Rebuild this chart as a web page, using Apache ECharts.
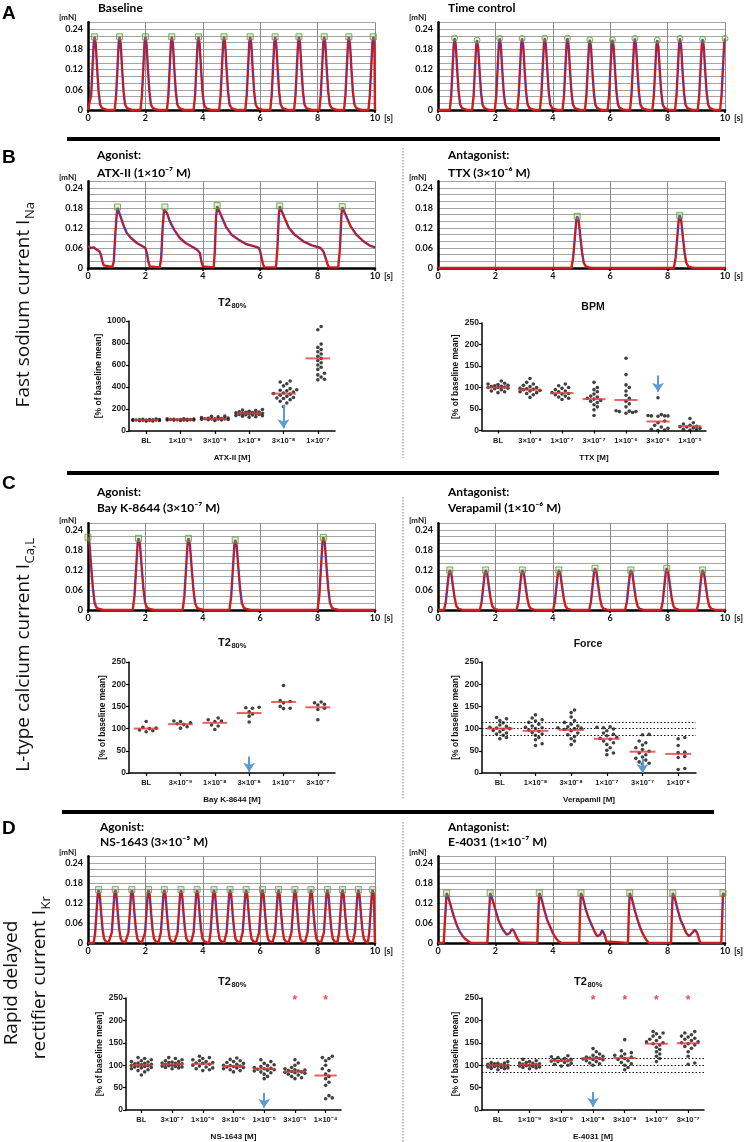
<!DOCTYPE html>
<html><head><meta charset="utf-8">
<script src="https://cdn.jsdelivr.net/npm/echarts@6/dist/echarts.min.js"></script>
<style>html,body{margin:0;padding:0;background:#fff}#c{width:747px;height:1142px}</style>
</head><body><div id="c"></div><script>
// ================= DATA =================
// Pulse shapes: [time offset from peak (s), fraction of peak]
const pulseNarrow = [[-0.17,0],[-0.12,0.2],[-0.07,0.6],[-0.03,0.92],[0,1],[0.04,0.9],[0.09,0.55],[0.14,0.25],[0.19,0.08],[0.25,0.03],[0.35,0.01],[0.45,0]];
const pulseWide = [[-0.2,0],[-0.14,0.2],[-0.08,0.6],[-0.03,0.93],[0,1],[0.05,0.92],[0.11,0.6],[0.17,0.3],[0.23,0.1],[0.3,0.03],[0.42,0.01],[0.55,0]];

// Beat times (s) and peak forces (mN)
const baselineBeats = [0.23,1.10,2.00,2.92,3.85,4.74,5.65,6.52,7.35,8.23,9.09,9.94];
const baselinePeaks = [0.217,0.217,0.217,0.217,0.217,0.217,0.217,0.217,0.217,0.217,0.217,0.217];
const timeControlBeats = [0.58,1.36,2.15,2.93,3.72,4.51,5.29,6.08,6.86,7.64,8.43,9.22,10.0];
const timeControlPeaks = [0.213,0.207,0.212,0.212,0.213,0.213,0.208,0.208,0.212,0.207,0.212,0.21,0.212];
const atxBeats = [1.03,2.68,4.50,6.68,8.86];
const atxPeaks = [0.183,0.183,0.187,0.186,0.184];
const atxTrace = [[0,0.065],[0.1,0.06],[0.2,0.062],[0.3,0.055],[0.4,0.05],[0.45,0.04],[0.5,0.02],[0.55,0.008],[0.6,0.003],[0.85,0.003],[0.9,0.02],[0.95,0.1],[1.0,0.16],[1.03,0.18],[1.08,0.175],[1.15,0.15],[1.25,0.125],[1.35,0.105],[1.5,0.09],[1.7,0.075],[1.9,0.065],[2.0,0.06],[2.05,0.045],[2.1,0.02],[2.15,0.005],[2.2,0.002],[2.5,0.002],[2.55,0.03],[2.6,0.12],[2.65,0.175],[2.68,0.18],[2.75,0.165],[2.85,0.14],[3.0,0.115],[3.2,0.09],[3.4,0.075],[3.6,0.065],[3.8,0.055],[3.9,0.045],[3.95,0.02],[4.0,0.005],[4.05,0.002],[4.38,0.002],[4.42,0.05],[4.46,0.15],[4.5,0.185],[4.55,0.18],[4.65,0.155],[4.8,0.125],[5.0,0.1],[5.25,0.085],[5.5,0.072],[5.8,0.065],[5.95,0.06],[6.0,0.05],[6.05,0.03],[6.1,0.01],[6.15,0.002],[6.55,0.002],[6.6,0.06],[6.65,0.16],[6.68,0.185],[6.73,0.18],[6.85,0.15],[7.0,0.12],[7.2,0.1],[7.5,0.08],[7.8,0.068],[8.0,0.063],[8.1,0.06],[8.2,0.05],[8.28,0.03],[8.35,0.01],[8.4,0.002],[8.72,0.002],[8.78,0.06],[8.83,0.16],[8.86,0.182],[8.9,0.18],[9.0,0.155],[9.15,0.125],[9.35,0.1],[9.6,0.08],[9.8,0.068],[10,0.062]];
const ttxBeats = [4.85,8.42];
const ttxPeaks = [0.155,0.158];
const bayBeats = [0.0,1.76,3.50,5.13,8.20];
const bayPeaks = [0.218,0.215,0.215,0.21,0.218];
const verBeats = [0.41,1.66,2.94,4.21,5.47,6.72,7.97,9.22];
const verPeaks = [0.12,0.12,0.12,0.12,0.125,0.12,0.125,0.12];
const nsBeats = [0.37,0.95,1.53,2.11,2.66,3.24,3.80,4.39,4.95,5.51,6.08,6.64,7.21,7.77,8.34,8.87,9.42,9.92];
const nsPeaks = [0.16,0.16,0.16,0.16,0.16,0.16,0.16,0.16,0.16,0.16,0.16,0.16,0.16,0.16,0.16,0.16,0.16,0.16];
const e4031Beats = [0.30,1.82,3.53,4.98,6.68,8.18,9.93];
const e4031Peaks = [0.15,0.15,0.15,0.15,0.15,0.15,0.15];
const e4031Trace = [[0,0],[0.2,0],[0.25,0.08],[0.3,0.15],[0.35,0.14],[0.45,0.11],[0.55,0.08],[0.65,0.055],[0.75,0.035],[0.85,0.022],[0.95,0.012],[1.05,0.006],[1.15,0],[1.72,0],[1.77,0.08],[1.82,0.15],[1.9,0.13],[2.0,0.1],[2.1,0.07],[2.2,0.05],[2.3,0.035],[2.4,0.025],[2.5,0.03],[2.58,0.042],[2.65,0.035],[2.75,0.015],[2.85,0.002],[2.9,0],[3.46,0],[3.5,0.1],[3.53,0.15],[3.6,0.135],[3.7,0.1],[3.8,0.07],[3.9,0.05],[4.0,0.03],[4.1,0.015],[4.2,0.005],[4.3,0],[4.92,0],[4.95,0.09],[4.98,0.15],[5.05,0.135],[5.15,0.1],[5.25,0.075],[5.35,0.055],[5.45,0.035],[5.55,0.02],[5.65,0.025],[5.72,0.038],[5.8,0.025],[5.87,0.005],[5.92,0],[6.62,0],[6.65,0.09],[6.68,0.15],[6.75,0.135],[6.85,0.1],[6.95,0.07],[7.05,0.045],[7.15,0.025],[7.25,0.01],[7.35,0],[8.12,0],[8.15,0.09],[8.18,0.15],[8.25,0.135],[8.35,0.1],[8.45,0.07],[8.55,0.05],[8.65,0.03],[8.75,0.02],[8.85,0.03],[8.95,0.04],[9.03,0.03],[9.1,0.01],[9.15,0],[9.87,0],[9.9,0.07],[9.93,0.15],[10,0.14]];

// Dot plots: categories, individual values (% of baseline mean), mean lines
const atxCats = ['BL','1×10⁻⁹','3×10⁻⁹','1×10⁻⁸','3×10⁻⁸','1×10⁻⁷'];
const atxT2 = [
 [92,95,97,98,100,101,103,105,108,90,96,99,102,104,94,100,106],
 [95,98,100,102,104,106,108,110,112,100,103,107,105,99,101],
 [95,100,103,106,108,110,112,115,118,122,128,133,135,105,113,109,111],
 [125,130,135,140,145,150,155,158,160,162,165,170,175,180,185,190,195,150,168,172,148,138],
 [220,255,270,285,295,305,315,325,335,345,355,365,370,375,385,410,430,445,455,300,340],
 [465,470,490,510,525,560,580,600,620,640,660,700,720,740,760,790,920,950,680]];
const atxMeans = [100,104,110,160,340,660];

const ttxCats = ['BL','3×10⁻⁸','1×10⁻⁷','3×10⁻⁷','1×10⁻⁶','3×10⁻⁶','1×10⁻⁵'];
const ttxBPM = [
 [88,90,92,95,97,98,100,100,101,102,103,104,105,107,108,110,115],
 [77,83,86,88,90,92,93,95,96,97,98,100,102,105,108,112,121],
 [72,75,78,80,83,85,86,88,90,92,95,98,100,104,108],
 [35,48,55,60,65,68,70,73,75,78,80,85,90,95,100,112],
 [40,42,44,44,45,46,55,62,68,75,82,92,100,106,130,168],
 [76,37,35,34,34,34,33,22,18,12,8,5,3,1,0],
 [28,18,15,12,10,9,8,6,5,3,2,1]];
const ttxMeans = [100,95,87,73,71,21,10];

const bayCats = ['BL','3×10⁻⁹','1×10⁻⁸','3×10⁻⁸','1×10⁻⁷','3×10⁻⁷'];
const bayT2 = [
 [116,103,101,100,97,95,93],
 [117,116,113,111,109,104,101],
 [124,120,117,116,108,106,98],
 [148,147,146,138,133,128,115],
 [197,163,161,158,150,146,145],
 [160,158,155,153,146,143,120]];
const bayMeans = [100,110,113,135,160,148];

const verCats = ['BL','1×10⁻⁸','3×10⁻⁸','1×10⁻⁷','3×10⁻⁷','1×10⁻⁶'];
const verForce = [
 [125,122,118,113,108,105,103,101,100,98,96,93,90,88,85,80,77],
 [131,124,120,117,114,110,106,103,102,100,97,94,91,88,85,80,75,66,62],
 [142,136,126,118,114,110,106,104,102,101,100,98,95,90,86,82,77,72,64],
 [104,103,102,99,95,90,87,84,80,78,76,72,68,64,57,51,45,41],
 [87,86,72,68,63,57,53,49,45,41,36,33,29,25,22,20],
 [80,77,62,47,46,37,35,10,8]];
const verMeans = [100,95,97,77,48,43];

const nsCats = ['BL','3×10⁻⁷','1×10⁻⁶','3×10⁻⁶','1×10⁻⁵','3×10⁻⁵','1×10⁻⁴'];
const nsT2 = [
 [78,85,88,90,92,94,95,96,97,98,99,100,101,102,103,104,105,107,108,110,112,115,117],
 [92,94,95,96,97,98,99,100,101,102,103,104,105,106,107,108,110,112,115,117],
 [88,90,92,94,96,98,100,102,104,105,106,108,110,112,115,117,120],
 [85,88,90,92,94,95,96,97,98,99,100,102,104,106,108,110,113,116],
 [70,75,80,83,85,87,89,90,91,92,93,95,97,99,101,104,108,112],
 [70,72,75,78,80,82,83,84,85,86,87,88,89,90,92,95,100,105,112],
 [25,27,32,55,62,70,75,80,88,92,100,110,115,117,120]];
const nsMeans = [100,102,103,98,92,86,77];

const eCats = ['BL','1×10⁻⁹','3×10⁻⁹','1×10⁻⁸','3×10⁻⁸','1×10⁻⁷','3×10⁻⁷'];
const eT2 = [
 [90,92,93,94,95,96,97,98,99,100,100,101,102,103,104,105,106,108],
 [92,94,95,96,97,98,99,100,101,102,103,104,105,106,108,110,113],
 [98,100,102,104,106,108,109,110,111,112,113,115,117,119,121],
 [100,103,105,108,110,112,113,114,115,116,117,118,120,122,125,130,137],
 [90,95,100,103,106,110,113,115,118,120,122,125,128,132,157],
 [108,115,120,125,130,135,140,145,148,150,152,155,158,162,165,170,172,175],
 [102,105,120,130,138,142,145,148,150,152,155,158,160,163,165,168,172,175]];
const eMeans = [100,101,110,115,116,148,149];

// Arrows [category index, from, to], significance stars [category index, level]
const atxArrow = [4,240,25], ttxArrow = [5,128,90], bayArrow = [3,37,3], verArrow = [4,32,0], nsArrow = [4,38,5], eArrow = [3,40,7];
const nsStars = [[5,245],[6,245]];
const eStars = [[3,243],[4,243],[5,243],[6,243]];
const refLines = [115,100,85];

// ================= BUILD =================
const FT = 'Lato, "Open Sans", sans-serif';
const FA = '"Liberation Sans", Arial, sans-serif';
const RED = '#d01c1c', BLUE = '#2b3bd6', GREEN = '#5b9e3a';

function buildTrace(beats, peaks, shape) {
  const pts = [];
  beats.forEach((b, i) => {
    const limit = i < beats.length - 1 ? beats[i+1] + shape[0][0] : 10.0001;
    shape.forEach(([dt, f]) => {
      const t = +(b + dt).toFixed(3);
      if (t >= 0 && t <= 10 && t < limit) pts.push([t, peaks[i] * f]);
    });
  });
  pts.sort((a, b) => a[0] - b[0]);
  if (pts[0][0] > 0) pts.unshift([0, 0]);
  if (pts[pts.length-1][0] < 10) pts.push([10, 0]);
  return pts;
}

const traceDefs = [
  {pts: buildTrace(baselineBeats, baselinePeaks, pulseNarrow), beats: baselineBeats, peaks: baselinePeaks, mk: 'rect'},
  {pts: buildTrace(timeControlBeats, timeControlPeaks, pulseNarrow), beats: timeControlBeats, peaks: timeControlPeaks, mk: 'circle'},
  {pts: atxTrace, beats: atxBeats, peaks: atxPeaks, mk: 'rect'},
  {pts: buildTrace(ttxBeats, ttxPeaks, pulseWide), beats: ttxBeats, peaks: ttxPeaks, mk: 'rect'},
  {pts: buildTrace(bayBeats, bayPeaks, pulseWide), beats: bayBeats, peaks: bayPeaks, mk: 'rect'},
  {pts: buildTrace(verBeats, verPeaks, pulseWide), beats: verBeats, peaks: verPeaks, mk: 'rect'},
  {pts: buildTrace(nsBeats, nsPeaks, pulseNarrow), beats: nsBeats, peaks: nsPeaks, mk: 'rect'},
  {pts: e4031Trace, beats: e4031Beats, peaks: e4031Peaks, mk: 'rect'}
];
const traceGrids = [
  {left:88, top:22.3, width:287, height:87.7},
  {left:438, top:22.3, width:287, height:87.7},
  {left:88, top:181.3, width:287, height:86.7},
  {left:438, top:181.3, width:287, height:86.7},
  {left:88, top:523.3, width:287, height:86.7},
  {left:438, top:523.3, width:287, height:86.7},
  {left:88, top:856.3, width:287, height:86.7},
  {left:438, top:856.3, width:287, height:86.7}
];
const dotDefs = [
  {cats: atxCats, vals: atxT2, means: atxMeans, ymax: 1000, yint: 200, xname: 'ATX-II [M]', arrow: atxArrow},
  {cats: ttxCats, vals: ttxBPM, means: ttxMeans, ymax: 250, yint: 50, xname: 'TTX [M]', arrow: ttxArrow},
  {cats: bayCats, vals: bayT2, means: bayMeans, ymax: 250, yint: 50, xname: 'Bay K-8644 [M]', arrow: bayArrow},
  {cats: verCats, vals: verForce, means: verMeans, ymax: 250, yint: 50, xname: 'Verapamil [M]', arrow: verArrow, ref: true},
  {cats: nsCats, vals: nsT2, means: nsMeans, ymax: 250, yint: 50, xname: 'NS-1643 [M]', arrow: nsArrow, stars: nsStars},
  {cats: eCats, vals: eT2, means: eMeans, ymax: 250, yint: 50, xname: 'E-4031 [M]', arrow: eArrow, stars: eStars, ref: true}
];
const dotGrids = [
  {left:129, top:321, width:206, height:110},
  {left:482, top:323, width:224, height:107.5},
  {left:129, top:662, width:206, height:111},
  {left:482, top:662, width:214, height:111},
  {left:126, top:998, width:215, height:112},
  {left:482, top:998, width:222, height:112}
];

// beeswarm-like horizontal spread, capped to the column
function swarm(vals, pxPerUnit, colPx, dot) {
  const sorted = vals.slice().sort((a, b) => a - b);
  const placed = [], out = [];
  const cap = colPx * 0.4, step = dot * 0.85;
  const cands = [0];
  for (let i = 1; i * step <= cap; i++) cands.push(i * step, -i * step);
  sorted.forEach(v => {
    const y = v * pxPerUnit;
    let best = 0, bestD = -1;
    for (const cx of cands) {
      const dmin = placed.reduce((m, p) => Math.min(m, Math.hypot(p[0] - cx, p[1] - y)), 1e9);
      if (dmin >= dot) { best = cx; bestD = 1e9; break; }
      if (dmin > bestD) { bestD = dmin; best = cx; }
    }
    placed.push([best, y]);
    out.push([best / colPx, v]);
  });
  return out;
}

const grid = [], xAxis = [], yAxis = [], series = [];
traceDefs.forEach((d, i) => {
  grid.push(Object.assign({containLabel: false}, traceGrids[i]));
  xAxis.push({gridIndex: i, type: 'value', min: 0, max: 10, interval: 2,
    axisLine: {show: true, onZero: false, lineStyle: {color: '#000', width: 2.5}},
    axisTick: {show: true, length: 3, lineStyle: {color: '#000', width: 1.5}},
    axisLabel: {fontFamily: FT, fontWeight: 'bold', fontSize: 9, color: '#111', margin: 4},
    splitLine: {show: true, lineStyle: {color: '#8a8a8a', width: 1}}});
  yAxis.push({gridIndex: i, type: 'value', min: 0, max: 0.26, interval: 0.02,
    axisLine: {show: true, onZero: false, lineStyle: {color: '#000', width: 2.5}},
    axisTick: {show: false},
    axisLabel: {fontFamily: FT, fontWeight: 'bold', fontSize: 9, color: '#111', margin: 5,
      formatter: v => { const k = v / 0.06; return Math.abs(k - Math.round(k)) < 1e-6 ? (v < 1e-9 ? '0' : v.toFixed(2)) : ''; }},
    splitLine: {show: true, lineStyle: {color: '#a5a5a5', width: 1}}});
  series.push({type: 'line', xAxisIndex: i, yAxisIndex: i, data: d.pts, showSymbol: false, silent: true,
    lineStyle: {color: RED, width: 2.4}, z: 3});
  series.push({type: 'line', xAxisIndex: i, yAxisIndex: i, data: d.pts.map(p => p[1] > 0.015 ? p : [p[0], null]), showSymbol: false, silent: true,
    connectNulls: false, lineStyle: {color: BLUE, width: 1.2, type: 'dotted'}, z: 4});
  series.push({type: 'scatter', xAxisIndex: i, yAxisIndex: i, silent: true, z: 5,
    data: d.beats.map((b, j) => [b, d.peaks[j]]).filter(p => p[0] <= 10),
    symbol: d.mk, symbolSize: 6, itemStyle: {color: 'rgba(140,200,110,0.35)', borderColor: GREEN, borderWidth: 1}});
});

dotDefs.forEach((d, k) => {
  const gi = 8 + k, g = dotGrids[k], n = d.cats.length;
  grid.push(Object.assign({containLabel: false}, g));
  xAxis.push({gridIndex: gi, type: 'category', data: d.cats, boundaryGap: true,
    axisLine: {show: true, onZero: false, lineStyle: {color: '#000', width: 1.5}},
    axisTick: {show: true, alignWithLabel: true, length: 3, lineStyle: {color: '#000', width: 1.2}},
    axisLabel: {interval: 0, fontSize: 7.5, fontWeight: 'bold', fontFamily: FA, color: '#222', margin: 6},
    name: d.xname, nameLocation: 'middle', nameGap: 23,
    nameTextStyle: {fontSize: 8, fontWeight: 'bold', fontFamily: FA, color: '#111'}, splitLine: {show: false}});
  const xv = xAxis.length;
  xAxis.push({gridIndex: gi, type: 'value', min: -0.5, max: n - 0.5, show: false, splitLine: {show: false}});
  const yi = yAxis.length;
  yAxis.push({gridIndex: gi, type: 'value', min: 0, max: d.ymax, interval: d.yint,
    axisLine: {show: true, onZero: false, lineStyle: {color: '#000', width: 1.5}},
    axisTick: {show: true, length: 3, lineStyle: {color: '#000', width: 1.2}},
    axisLabel: {fontSize: 8.5, fontWeight: 'bold', fontFamily: FA, color: '#222', margin: 3, formatter: v => String(v)},
    splitLine: {show: false},
    name: '[% of baseline mean]', nameLocation: 'middle', nameGap: d.ymax > 500 ? 25 : 22, nameRotate: 90,
    nameTextStyle: {fontSize: 8.5, fontWeight: 'bold', fontFamily: FA, color: '#111'}});
  const colPx = g.width / n, pxu = g.height / d.ymax;
  const pts = [];
  d.vals.forEach((col, ci) => swarm(col, pxu, colPx, 3.9).forEach(([o, v]) => pts.push([ci + o, v])));
  series.push({type: 'scatter', xAxisIndex: xv, yAxisIndex: yi, data: pts, symbolSize: 3.6, silent: true,
    itemStyle: {color: '#111'}, z: 3,
    markLine: d.ref ? {silent: true, symbol: 'none', label: {show: false},
      lineStyle: {color: '#111', type: [1.5, 2], width: 1.2}, data: refLines.map(v => ({yAxis: v}))} : undefined});
  series.push({type: 'scatter', xAxisIndex: xv, yAxisIndex: yi, data: d.means.map((m, ci) => [ci, m]), silent: true,
    symbol: 'rect', symbolSize: [colPx * 0.72, 2], itemStyle: {color: '#e23b3b'}, z: 6});
  series.push({type: 'lines', coordinateSystem: 'cartesian2d', xAxisIndex: xv, yAxisIndex: yi, silent: true, z: 7,
    data: [{coords: [[d.arrow[0], d.arrow[1]], [d.arrow[0], d.arrow[2]]]}],
    symbol: ['none', 'arrow'], symbolSize: 9, lineStyle: {color: '#5b9bd5', width: 2, opacity: 1}});
  if (d.stars) series.push({type: 'scatter', xAxisIndex: xv, yAxisIndex: yi, data: d.stars, silent: true,
    symbolSize: 8, itemStyle: {color: 'rgba(0,0,0,0)'},
    label: {show: true, position: 'inside', formatter: '*', color: '#e02020', fontSize: 12, fontFamily: FA, fontWeight: 'bold'}});
});

// ---------- text / decoration ----------
const cv = document.createElement('canvas').getContext('2d');
function tw(t, f) { cv.font = f; return cv.measureText(t).width; }
function T(x, y, text, font, extra) {
  return Object.assign({type: 'text', x: x, y: y, silent: true,
    style: Object.assign({text: text, font: font, fill: '#111', align: 'left', verticalAlign: 'middle'}, extra || {})});
}
function subPair(cx, cy, main, sub, fm, fs, dy) {
  const w1 = tw(main, fm), w2 = tw(sub, fs), x0 = cx - (w1 + w2) / 2;
  return [T(x0, cy, main, fm), T(x0 + w1 + 0.5, cy + dy, sub, fs)];
}
const g = [];
[['A',14],['B',158],['C',484],['D',829]].forEach(([l,y]) => g.push(T(2, y, l, 'bold 19px ' + FA, {fill: '#000'})));
[[67,720,139],[67,719,473],[62,714,812]].forEach(([a,b,y]) => g.push({type: 'line', silent: true, shape: {x1: a, y1: y, x2: b, y2: y}, style: {stroke: '#000', lineWidth: 4}}));
[[148,458],[497,800],[822,1142]].forEach(([a,b]) => g.push({type: 'line', silent: true, shape: {x1: 403, y1: a, x2: 403, y2: b}, style: {stroke: '#aaa', lineWidth: 1.5, lineDash: [1.5, 1.5]}}));
const TF = 'bold 12px ' + FT;
[[98,8,'Baseline'],[448,8,'Time control'],
 [97,155,'Agonist:'],[97,173,'ATX-II (1×10⁻⁷ M)'],[448,155,'Antagonist:'],[448,173,'TTX (3×10⁻⁶ M)'],
 [97,492,'Agonist:'],[97,508,'Bay K-8644 (3×10⁻⁷ M)'],[448,492,'Antagonist:'],[448,508,'Verapamil (1×10⁻⁶ M)'],
 [100,827,'Agonist:'],[100,842,'NS-1643 (3×10⁻⁵ M)'],[448,827,'Antagonist:'],[448,842,'E-4031 (1×10⁻⁷ M)']
].forEach(([x,y,t]) => g.push(T(x, y, t, TF, {fill: '#000'})));
traceGrids.forEach((tg, i) => {
  const yUnit = [17,17,177,177,520,520,852,852][i];
  g.push(T(tg.left - 29, yUnit, '[mN]', 'bold 8px ' + FT));
  g.push(T(tg.left + tg.width + 9, tg.top + tg.height + 8, '[s]', 'bold 9px ' + FT));
});
const FM = 'bold 11px ' + FA, FS = 'bold 7.5px ' + FA;
[[232,303],[232,643],[232,982],[588,982]].forEach(([x,y]) => g.push(...subPair(x, y, 'T2', '80%', FM, FS, 3)));
g.push(T(593, 307, 'BPM', 'bold 10.5px ' + FA, {align: 'center'}));
g.push(T(588, 644, 'Force', 'bold 10.5px ' + FA, {align: 'center'}));
const SF = '19px "Open Sans", sans-serif', SS = '13px "Open Sans", sans-serif';
g.push({type: 'group', x: 24, y: 305, rotation: Math.PI / 2, children: subPair(0, 0, 'Fast sodium current I', 'Na', SF, SS, 6)});
g.push({type: 'group', x: 24, y: 655, rotation: Math.PI / 2, children: subPair(0, 0, 'L-type calcium current I', 'Ca,L', SF, SS, 6)});
g.push({type: 'group', x: 12, y: 983, rotation: Math.PI / 2, children: [T(0, 0, 'Rapid delayed', SF, {align: 'center'})]});
g.push({type: 'group', x: 40, y: 978, rotation: Math.PI / 2, children: subPair(0, 0, 'rectifier current I', 'Kr', SF, SS, 6)});

const chart = echarts.init(document.getElementById('c'), null, {renderer: 'canvas', width: 747, height: 1142});
chart.setOption({animation: false, backgroundColor: '#fff', grid, xAxis, yAxis, series, graphic: {elements: g}});
</script></body></html>
